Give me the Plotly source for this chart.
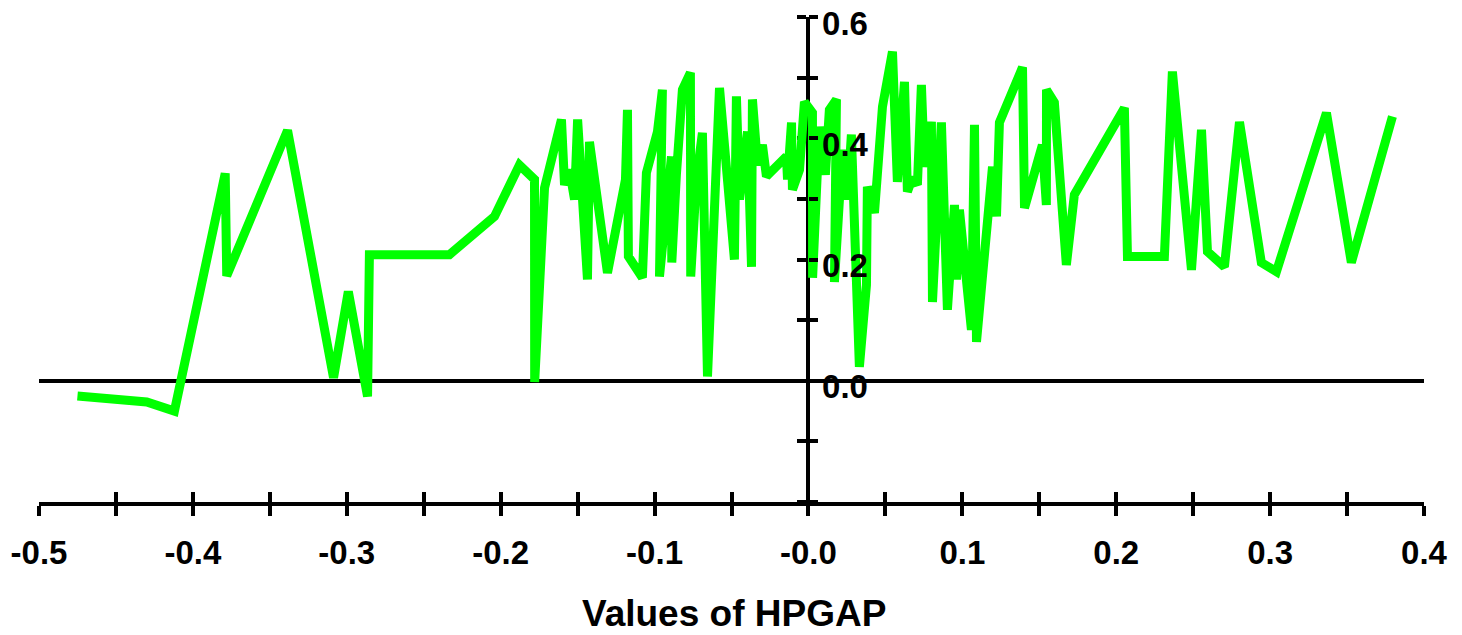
import plotly.graph_objects as go

# HPGAP values (x) and response (y), in drawing order
hpgap = [-0.475, -0.430, -0.412, -0.379, -0.378, -0.3385, -0.3086, -0.299, -0.2865, -0.2853,
         -0.2333, -0.204, -0.1878, -0.178, -0.1779, -0.1715, -0.1605, -0.1585, -0.1553, -0.152,
         -0.150, -0.1436, -0.1423, -0.1306, -0.1189, -0.1176, -0.1170, -0.1079, -0.1053, -0.0981,
         -0.0949, -0.0968, -0.089, -0.0888, -0.0858, -0.0819, -0.0767, -0.0765, -0.0728, -0.0689,
         -0.0656, -0.0578, -0.0481, -0.0468, -0.0448, -0.0396, -0.037, -0.0364, -0.0331, -0.0299,
         -0.0273, -0.0143, -0.0136, -0.011, -0.0104, -0.0058, -0.0026, 0.0026, 0.0027, 0.0071,
         0.011, 0.0136, 0.0182, 0.0169, 0.0221, 0.0253, 0.0279, 0.0331, 0.0377, 0.0383,
         0.0429, 0.0481, 0.0546, 0.0578, 0.0624, 0.0643, 0.0676, 0.0708, 0.0734, 0.0754,
         0.0799, 0.0806, 0.0864, 0.0903, 0.0949, 0.0962, 0.0981, 0.1059, 0.1079, 0.1092,
         0.1196, 0.1222, 0.1241, 0.1391, 0.1404, 0.152, 0.1546, 0.1547, 0.1598, 0.1676,
         0.1728, 0.2053, 0.2073, 0.2313, 0.2365, 0.2489, 0.2554, 0.2593, 0.2703, 0.2801,
         0.2943, 0.3041, 0.3366, 0.3528, 0.3795]
response = [-0.025, -0.035, -0.050, 0.342, 0.173, 0.413, 0.005, 0.147, -0.026, 0.208,
            0.208, 0.271, 0.356, 0.332, -0.002, 0.318, 0.431, 0.323, 0.348, 0.299,
            0.431, 0.167, 0.394, 0.178, 0.332, 0.447, 0.205, 0.170, 0.343, 0.411,
            0.480, 0.172, 0.370, 0.195, 0.340, 0.480, 0.508, 0.172, 0.332, 0.409,
            0.007, 0.483, 0.200, 0.469, 0.299, 0.411, 0.188, 0.464, 0.356, 0.389,
            0.337, 0.370, 0.332, 0.426, 0.315, 0.348, 0.460, 0.442, 0.170, 0.419,
            0.340, 0.447, 0.464, 0.163, 0.381, 0.299, 0.406, 0.023, 0.158, 0.320,
            0.277, 0.452, 0.543, 0.328, 0.493, 0.312, 0.335, 0.323, 0.488, 0.353,
            0.427, 0.130, 0.426, 0.117, 0.290, 0.167, 0.282, 0.084, 0.422, 0.064,
            0.353, 0.271, 0.426, 0.517, 0.285, 0.389, 0.290, 0.480, 0.459, 0.191,
            0.307, 0.450, 0.205, 0.205, 0.510, 0.183, 0.414, 0.213, 0.188, 0.427,
            0.195, 0.180, 0.442, 0.195, 0.436]

x_tickvals = [-0.5, -0.4, -0.3, -0.2, -0.1, 0.0, 0.1, 0.2, 0.3, 0.4]
x_ticktext = ["-0.5", "-0.4", "-0.3", "-0.2", "-0.1", "-0.0", "0.1", "0.2", "0.3", "0.4"]
y_tickvals = [0.0, 0.2, 0.4, 0.6]
y_ticktext = ["0.0", "0.2", "0.4", "0.6"]
x_range = [-0.5, 0.4]
y_range = [-0.2, 0.6]
x_title = "Values of HPGAP"

FONT = "Liberation Sans, Arial, sans-serif"
tickfont = dict(family=FONT, size=33, color="black", weight="bold")
y_pos = (0 - x_range[0]) / (x_range[1] - x_range[0])

fig = go.Figure()
fig.add_trace(go.Scatter(x=hpgap, y=response, mode="lines",
                         line=dict(color="#00ff00", width=9, shape="linear"),
                         hoverinfo="skip", showlegend=False))
# helper traces so the overlaying axes (inward halves of crossing ticks) get drawn
fig.add_trace(go.Scatter(x=[None], y=[None], xaxis="x2", yaxis="y", showlegend=False, hoverinfo="skip"))
fig.add_trace(go.Scatter(x=[None], y=[None], xaxis="x", yaxis="y2", showlegend=False, hoverinfo="skip"))

fig.update_layout(
    width=1462, height=635,
    margin=dict(l=39, r=38, t=17, b=133, autoexpand=False),
    paper_bgcolor="white", plot_bgcolor="white",
    showlegend=False,
    xaxis=dict(range=x_range, anchor="y", showline=True, linecolor="black", linewidth=4,
               showgrid=False, zeroline=False, automargin=False,
               tickmode="array", tickvals=x_tickvals, ticktext=x_ticktext,
               ticks="outside", ticklen=10, tickwidth=4, tickcolor="black",
               ticklabelstandoff=8, ticklabeloverflow="allow",
               minor=dict(dtick=0.05, tick0=0, ticks="outside", ticklen=10, tickwidth=4,
                          tickcolor="black", showgrid=False),
               tickfont=tickfont),
    xaxis2=dict(range=x_range, overlaying="x", anchor="y", side="bottom",
                showline=False, showgrid=False, zeroline=False, showticklabels=False,
                tickmode="array", tickvals=x_tickvals,
                ticks="inside", ticklen=10, tickwidth=4, tickcolor="black",
                minor=dict(dtick=0.05, tick0=0, ticks="inside", ticklen=10, tickwidth=4,
                           tickcolor="black", showgrid=False)),
    yaxis=dict(range=y_range, anchor="free", position=y_pos, side="right",
               showline=False, showgrid=False,
               zeroline=True, zerolinecolor="black", zerolinewidth=4, automargin=False,
               tickmode="array", tickvals=y_tickvals, ticktext=y_ticktext,
               ticks="outside", ticklen=9, tickwidth=4, tickcolor="black",
               ticklabeloverflow="allow", ticklabelshift=6, ticklabelstandoff=-3,
               minor=dict(dtick=0.1, tick0=0, ticks="outside", ticklen=9, tickwidth=4,
                          tickcolor="black", showgrid=False),
               tickfont=tickfont),
    yaxis2=dict(range=y_range, overlaying="y", anchor="free", position=y_pos, side="left",
                layer="below traces",
                showline=True, linecolor="black", linewidth=4,
                showgrid=False, zeroline=False, showticklabels=False,
                tickmode="array", tickvals=y_tickvals,
                ticks="outside", ticklen=9, tickwidth=4, tickcolor="black",
                minor=dict(dtick=0.1, tick0=0, ticks="outside", ticklen=9, tickwidth=4,
                           tickcolor="black", showgrid=False)),
    annotations=[dict(text=x_title, xref="paper", yref="paper", x=0.5015, y=-0.229,
                      xanchor="center", yanchor="middle", showarrow=False,
                      font=dict(family=FONT, size=37, color="black", weight="bold"))],
)

fig.write_html("out.html",
               config={"displayModeBar": False},
               post_script="document.body.style.margin='0';document.body.style.overflow='hidden';")
